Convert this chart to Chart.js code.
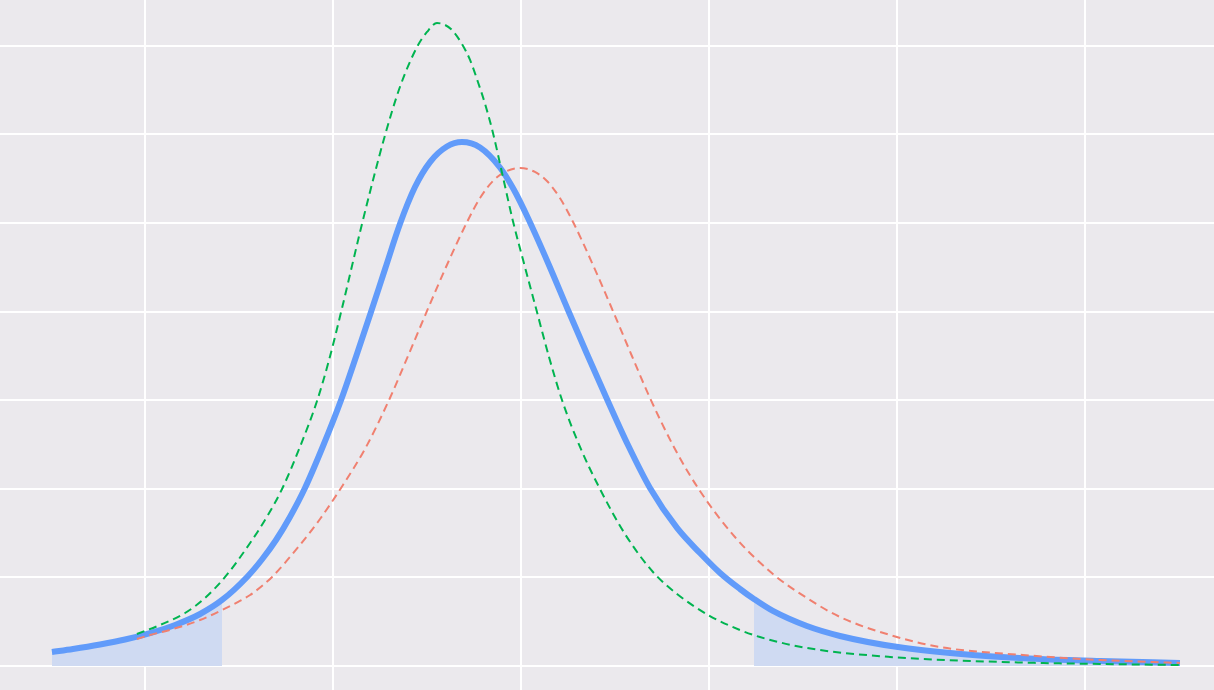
<!DOCTYPE html>
<html>
<head>
<meta charset="utf-8">
<script src="https://cdn.jsdelivr.net/npm/chart.js@4.4.1/dist/chart.umd.min.js"></script>
<style>
  html, body { margin: 0; padding: 0; background: #ebe9ed; }
  #wrap { width: 1214px; height: 690px; position: relative; }
</style>
</head>
<body>
<div id="wrap"><canvas id="c"></canvas></div>
<script>
// Blue (main) density curve
const blueX = [-2.495,-2.383,-2.239,-2.106,-1.973,-1.840,-1.707,-1.590,-1.457,-1.378,-1.303,-1.229,-1.149,-1.053,-0.957,-0.878,-0.798,-0.723,-0.644,-0.564,-0.484,-0.394,-0.314,-0.218,-0.112,-0.037,0.037,0.144,0.250,0.351,0.457,0.569,0.686,0.830,0.952,1.059,1.165,1.239,1.340,1.521,1.697,2.005,2.404,2.761,3.080,3.505];
const blueY = [0.158,0.192,0.243,0.299,0.372,0.463,0.587,0.745,1.005,1.202,1.422,1.682,2.009,2.483,3.002,3.488,3.995,4.481,4.989,5.406,5.688,5.863,5.914,5.852,5.626,5.372,5.056,4.549,4.018,3.521,3.014,2.494,2.009,1.558,1.275,1.050,0.869,0.756,0.621,0.451,0.339,0.214,0.124,0.079,0.056,0.034];
// Green dashed curve
const greenX = [-2.043,-1.920,-1.787,-1.681,-1.574,-1.441,-1.346,-1.271,-1.176,-1.085,-1.021,-0.957,-0.851,-0.787,-0.723,-0.644,-0.553,-0.500,-0.447,-0.404,-0.362,-0.314,-0.271,-0.229,-0.191,-0.149,-0.096,-0.043,0.021,0.085,0.149,0.218,0.314,0.420,0.553,0.702,0.830,1.005,1.165,1.271,1.521,1.963,2.404,2.761,3.080,3.505];
const greenY = [0.361,0.463,0.598,0.767,1.005,1.388,1.704,1.998,2.472,2.991,3.454,3.995,4.944,5.485,5.993,6.535,6.986,7.156,7.257,7.235,7.167,7.020,6.840,6.591,6.343,6.016,5.519,5.023,4.503,3.995,3.488,3.002,2.472,1.998,1.490,1.061,0.813,0.564,0.406,0.327,0.203,0.102,0.056,0.034,0.023,0.011];
// Red dashed curve
const redX = [-2.043,-1.973,-1.851,-1.707,-1.590,-1.495,-1.441,-1.372,-1.324,-1.176,-1.069,-0.947,-0.830,-0.697,-0.601,-0.500,-0.394,-0.287,-0.218,-0.149,-0.085,-0.005,0.074,0.138,0.207,0.277,0.383,0.489,0.590,0.686,0.819,0.952,1.138,1.340,1.521,1.697,1.963,2.229,2.670,3.080,3.505];
const redY = [0.305,0.350,0.418,0.519,0.632,0.734,0.801,0.914,1.005,1.366,1.659,2.043,2.449,3.025,3.499,4.007,4.526,5.011,5.282,5.474,5.576,5.621,5.576,5.474,5.282,5.011,4.526,4.007,3.499,3.025,2.449,1.975,1.456,1.038,0.767,0.553,0.350,0.214,0.124,0.068,0.034];
// Shaded tail limits
const tailLeftEnd = -1.590;
const tailRightStart = 1.239;

const pts = (xs, ys) => xs.map((x, i) => ({x, y: ys[i]}));
const bluePts = pts(blueX, blueY);

const intOnly = (scale) => {
  scale.ticks = scale.ticks.filter(t => Math.abs(t.value - Math.round(t.value)) < 1e-6);
};

new Chart(document.getElementById('c'), {
  type: 'line',
  data: {
    datasets: [
      { data: pts(greenX, greenY), borderColor: '#00b450', borderWidth: 2, borderDash: [8, 5],
        pointRadius: 0, fill: false, cubicInterpolationMode: 'monotone' },
      { data: pts(redX, redY), borderColor: '#f08070', borderWidth: 2, borderDash: [8, 5],
        pointRadius: 0, fill: false, cubicInterpolationMode: 'monotone' },
      { data: bluePts, borderColor: '#619bfa', borderWidth: 6, borderCapStyle: 'butt',
        pointRadius: 0, fill: false, cubicInterpolationMode: 'monotone' },
      { data: bluePts.filter(p => p.x <= tailLeftEnd + 1e-9), borderWidth: 0, borderColor: 'rgba(0,0,0,0)',
        backgroundColor: '#cfdaf2', pointRadius: 0, fill: 'origin', cubicInterpolationMode: 'monotone' },
      { data: bluePts.filter(p => p.x >= tailRightStart - 1e-9), borderWidth: 0, borderColor: 'rgba(0,0,0,0)',
        backgroundColor: '#cfdaf2', pointRadius: 0, fill: 'origin', cubicInterpolationMode: 'monotone' }
    ]
  },
  options: {
    responsive: true,
    maintainAspectRatio: false,
    animation: false,
    layout: { padding: 0 },
    plugins: { legend: { display: false }, tooltip: { enabled: false } },
    scales: {
      x: {
        type: 'linear', min: -2.7713, max: 3.6862,
        ticks: { display: false, stepSize: 1 },
        grid: { color: '#ffffff', lineWidth: 2, drawTicks: false },
        border: { display: false },
        afterBuildTicks: intOnly
      },
      y: {
        type: 'linear', min: -0.2709, max: 7.5169,
        ticks: { display: false, stepSize: 1 },
        grid: { color: '#ffffff', lineWidth: 2, drawTicks: false },
        border: { display: false },
        afterBuildTicks: intOnly
      }
    }
  }
});
</script>
</body>
</html>
